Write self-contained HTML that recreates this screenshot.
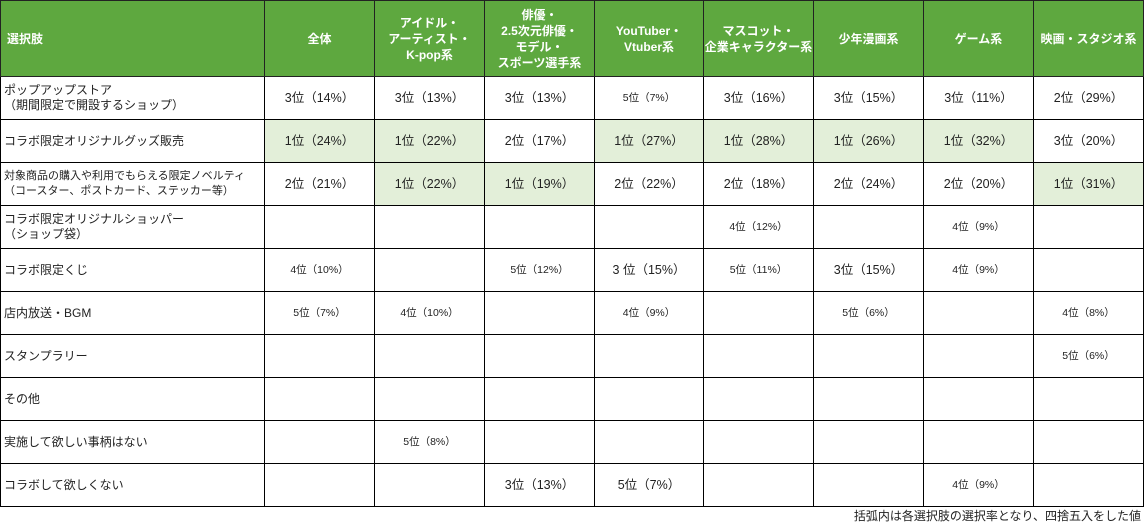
<!DOCTYPE html>
<html><head><meta charset="utf-8"><style>
body{margin:0;background:#fff;width:1144px;height:526px;overflow:hidden;font-family:"Liberation Sans","Noto Sans CJK JP",sans-serif;}
table{position:absolute;left:0;top:0;border-collapse:collapse;table-layout:fixed;width:1143px;}
td,th{border:1px solid #000;padding:0;text-align:center;font-size:12.5px;color:#222;font-weight:normal;}
th{background:#5ea83f;color:#fff;font-weight:bold;height:75px;line-height:16px;font-size:12px;border-color:#222;}
th.l{text-align:left;padding-left:6px;}
td{height:42px;line-height:15px;}
td.l{text-align:left;padding-left:3px;font-size:12px;}
.g{background:#e3efd9;}
.s{font-size:10.5px;}
.foot{position:absolute;right:3px;top:507px;font-size:12px;color:#222;}
</style></head><body>
<table>
<colgroup><col style="width:264px"><col style="width:110px"><col style="width:110px"><col style="width:110px"><col style="width:109px"><col style="width:110px"><col style="width:110px"><col style="width:110px"><col style="width:110px"></colgroup>
<tr><th class="l">選択肢</th><th>全体</th><th>アイドル・<br>アーティスト・<br>K-pop系</th><th>俳優・<br>2.5次元俳優・<br>モデル・<br>スポーツ選手系</th><th>YouTuber・<br>Vtuber系</th><th>マスコット・<br>企業キャラクター系</th><th>少年漫画系</th><th>ゲーム系</th><th>映画・スタジオ系</th></tr>
<tr><td class="l">ポップアップストア<br>（期間限定で開設するショップ）</td><td>3位（14%）</td><td>3位（13%）</td><td>3位（13%）</td><td class="s">5位（7%）</td><td>3位（16%）</td><td>3位（15%）</td><td>3位（11%）</td><td>2位（29%）</td></tr>
<tr><td class="l">コラボ限定オリジナルグッズ販売</td><td class="g">1位（24%）</td><td class="g">1位（22%）</td><td>2位（17%）</td><td class="g">1位（27%）</td><td class="g">1位（28%）</td><td class="g">1位（26%）</td><td class="g">1位（32%）</td><td>3位（20%）</td></tr>
<tr><td class="l" style="font-size:11px">対象商品の購入や利用でもらえる限定ノベルティ<br>（コースター、ポストカード、ステッカー等）</td><td>2位（21%）</td><td class="g">1位（22%）</td><td class="g">1位（19%）</td><td>2位（22%）</td><td>2位（18%）</td><td>2位（24%）</td><td>2位（20%）</td><td class="g">1位（31%）</td></tr>
<tr><td class="l">コラボ限定オリジナルショッパー<br>（ショップ袋）</td><td></td><td></td><td></td><td></td><td class="s">4位（12%）</td><td></td><td class="s">4位（9%）</td><td></td></tr>
<tr><td class="l">コラボ限定くじ</td><td class="s">4位（10%）</td><td></td><td class="s">5位（12%）</td><td>3 位（15%）</td><td class="s">5位（11%）</td><td>3位（15%）</td><td class="s">4位（9%）</td><td></td></tr>
<tr><td class="l">店内放送・BGM</td><td class="s">5位（7%）</td><td class="s">4位（10%）</td><td></td><td class="s">4位（9%）</td><td></td><td class="s">5位（6%）</td><td></td><td class="s">4位（8%）</td></tr>
<tr><td class="l">スタンプラリー</td><td></td><td></td><td></td><td></td><td></td><td></td><td></td><td class="s">5位（6%）</td></tr>
<tr><td class="l">その他</td><td></td><td></td><td></td><td></td><td></td><td></td><td></td><td></td></tr>
<tr><td class="l">実施して欲しい事柄はない</td><td></td><td class="s">5位（8%）</td><td></td><td></td><td></td><td></td><td></td><td></td></tr>
<tr><td class="l">コラボして欲しくない</td><td></td><td></td><td>3位（13%）</td><td>5位（7%）</td><td></td><td></td><td class="s">4位（9%）</td><td></td></tr>
</table>
<div class="foot">括弧内は各選択肢の選択率となり、四捨五入をした値</div>
</body></html>
